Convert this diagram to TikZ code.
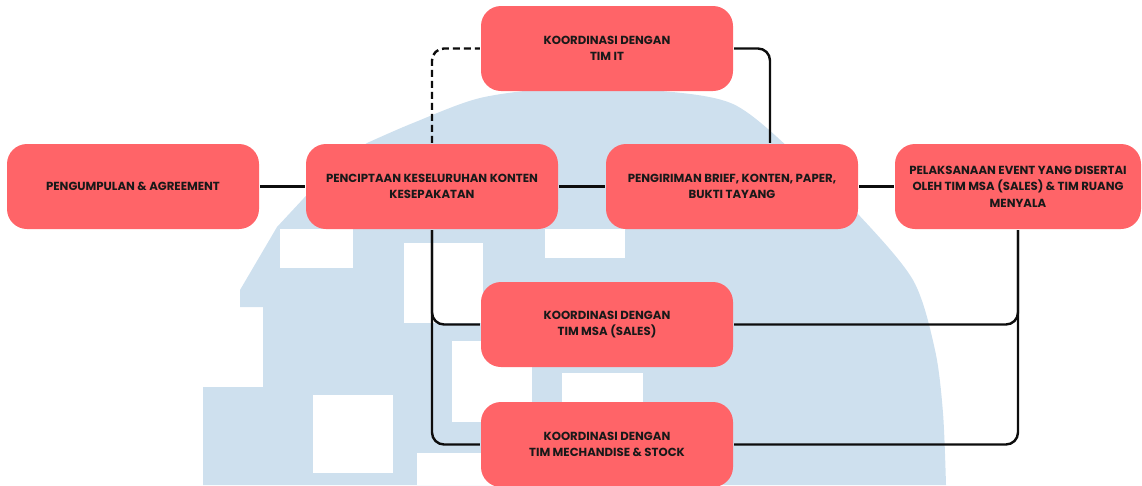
\documentclass[tikz,border=0pt]{standalone}
\usepackage{fontspec}
\setmainfont{Poppins}
\usepackage{tikz}
\usetikzlibrary{positioning, calc}

\definecolor{boxred}{RGB}{255,100,104}
\definecolor{wmblue}{RGB}{206,224,238}

\begin{document}
\begin{tikzpicture}[
    x=1pt, y=-1pt,
    line width=2.4pt,
    box/.style={rectangle, rounded corners=20pt, fill=boxred, minimum width=252pt, minimum height=85pt, inner sep=0pt, align=center, font=\fontsize{11.7}{16.5}\selectfont\bfseries, text=black!90},
    link/.style={draw=black!95, rounded corners=12pt}
]
\useasboundingbox (0,0) rectangle (1142,485);

% --- Watermark ---
\begin{scope}
    \clip (0,0) rectangle (1142,485);
    \fill[wmblue] (203,485) -- (203,387) -- (263,387) -- (263,307) -- (240,307) -- (240,290) -- (277,227) -- (330,170)
        -- plot[smooth] coordinates {(367,143) (413,123) (480,98) (560,88) (650,90) (733,104) (800,158) (857,213) (913,280) (935,350) (943,413) (946,485)} -- cycle;
    \foreach \xa/\ya/\xb/\yb in {280/229/353/268, 404/243/483/323, 545/229/625/258, 452/341/532/422, 313/395/393/473, 417/453/500/485, 562/373/643/440}
        \fill[white] (\xa,\ya) rectangle (\xb,\yb);
\end{scope}

% --- Main flow ---
\node[box] (agree) at (133,186.5) {PENGUMPULAN \& AGREEMENT};
\node[box] (cipta) at (432,186.5) {PENCIPTAAN KESELURUHAN KONTEN\\KESEPAKATAN};
\node[box] (kirim) at (732,186.5) {PENGIRIMAN BRIEF, KONTEN, PAPER,\\BUKTI TAYANG};
\node[box, minimum width=246pt] (event) at (1018,186.5) {PELAKSANAAN EVENT YANG DISERTAI\\OLEH TIM MSA (SALES) \& TIM RUANG\\MENYALA};

% --- Koordinasi ---
\node[box] (it) at (607,48.5) {KOORDINASI DENGAN\\TIM IT};
\node[box] (msa) at (607,324.5) {KOORDINASI DENGAN\\TIM MSA (SALES)};
\node[box] (merch) at (607,444.5) {KOORDINASI DENGAN\\TIM MECHANDISE \& STOCK};

% --- Links ---
\draw[link] (agree) -- (cipta);
\draw[link] (cipta) -- (kirim);
\draw[link] (kirim) -- (event);
\draw[link, dash pattern=on 7pt off 4pt] (cipta.north) |- (it.west);
\draw[link] (it.east) -| ([xshift=38pt]kirim.north);
\draw[link] (cipta.south) |- (msa.west);
\draw[link] (cipta.south) |- (merch.west);
\draw[link] (event.south) |- (msa.east);
\draw[link] (event.south) |- (merch.east);

\end{tikzpicture}
\end{document}
